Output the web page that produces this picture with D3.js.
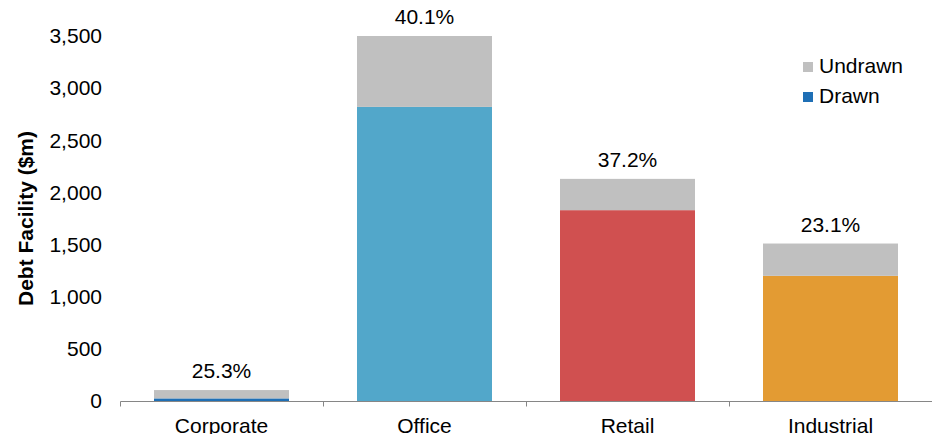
<!DOCTYPE html>
<html>
<head>
<meta charset="utf-8">
<script src="https://cdn.jsdelivr.net/npm/d3@7"></script>
<style>
  body { margin: 0; background: #fff; }
  text { font-family: "Liberation Sans", Arial, sans-serif; }
</style>
</head>
<body>
<div id="my_dataviz"></div>
<script>
var categories = ["Corporate", "Office", "Retail", "Industrial"];
var drawn = [25, 2820, 1830, 1200];
var undrawn = [80, 680, 300, 310];
var pctLabels = ["25.3%", "40.1%", "37.2%", "23.1%"];
var drawnColors = ["#1f6fb5", "#52a7ca", "#d05050", "#e39b33"];
var yTicks = [0, 500, 1000, 1500, 2000, 2500, 3000, 3500];

var width = 932, height = 434;
var margin = {top: 36, right: 0, bottom: 33, left: 120};

var svg = d3.select("#my_dataviz").append("svg")
  .attr("width", width).attr("height", height);

var x = d3.scaleBand().domain(categories)
  .range([margin.left, width - margin.right])
  .paddingInner(0.335).paddingOuter(0.1675);

var y = d3.scaleLinear().domain([0, 3500])
  .range([height - margin.bottom, margin.top]);

// bars
var g = svg.append("g");
categories.forEach(function(c, i) {
  g.append("rect")
    .attr("x", x(c)).attr("width", x.bandwidth())
    .attr("y", y(drawn[i])).attr("height", y(0) - y(drawn[i]))
    .style("fill", drawnColors[i]);
  g.append("rect")
    .attr("x", x(c)).attr("width", x.bandwidth())
    .attr("y", y(drawn[i] + undrawn[i])).attr("height", y(drawn[i]) - y(drawn[i] + undrawn[i]))
    .style("fill", "#c0c0c0");
  g.append("text")
    .attr("x", x(c) + x.bandwidth() / 2)
    .attr("y", y(drawn[i] + undrawn[i]) - 12)
    .attr("text-anchor", "middle")
    .style("font-size", "21px").style("fill", "#000")
    .text(pctLabels[i]);
});

// x axis with ticks between categories
var xAxis = svg.append("g");
var y0 = y(0) + 0.5;
xAxis.append("line")
  .attr("x1", margin.left + 0.5).attr("x2", width)
  .attr("y1", y0).attr("y2", y0)
  .style("stroke", "#868686").style("stroke-width", 1);
var step = x.step();
d3.range(categories.length + 1).forEach(function(k) {
  var xx = Math.round(margin.left + k * step) + 0.5;
  xAxis.append("line")
    .attr("x1", xx).attr("x2", xx).attr("y1", y0).attr("y2", y0 + 5)
    .style("stroke", "#868686");
});
categories.forEach(function(c) {
  xAxis.append("text")
    .attr("x", x(c) + x.bandwidth() / 2).attr("y", y0 + 31)
    .attr("text-anchor", "middle")
    .style("font-size", "21px")
    .text(c);
});

// y axis labels only
var yAxis = svg.append("g")
  .attr("transform", "translate(" + margin.left + ",0)")
  .call(d3.axisLeft(y).tickValues(yTicks).tickFormat(d3.format(",")).tickSize(0).tickPadding(18));
yAxis.select(".domain").remove();
yAxis.selectAll("text").style("font-size", "21px").style("fill", "#000")
  .style("font-family", "Liberation Sans, Arial, sans-serif");

svg.append("text")
  .attr("transform", "translate(33," + ((margin.top + y(0)) / 2) + ") rotate(-90)")
  .attr("text-anchor", "middle")
  .style("font-size", "21px").style("font-weight", "bold")
  .text("Debt Facility ($m)");

// legend
var legendItems = [{name: "Undrawn", color: "#c0c0c0"}, {name: "Drawn", color: "#1f6fb5"}];
legendItems.forEach(function(d, i) {
  svg.append("rect").attr("x", 803).attr("y", 62 + i * 30).attr("width", 10).attr("height", 10)
    .style("fill", d.color);
  svg.append("text").attr("x", 819).attr("y", 73 + i * 30)
    .style("font-size", "21px")
    .text(d.name);
});
</script>
</body>
</html>
